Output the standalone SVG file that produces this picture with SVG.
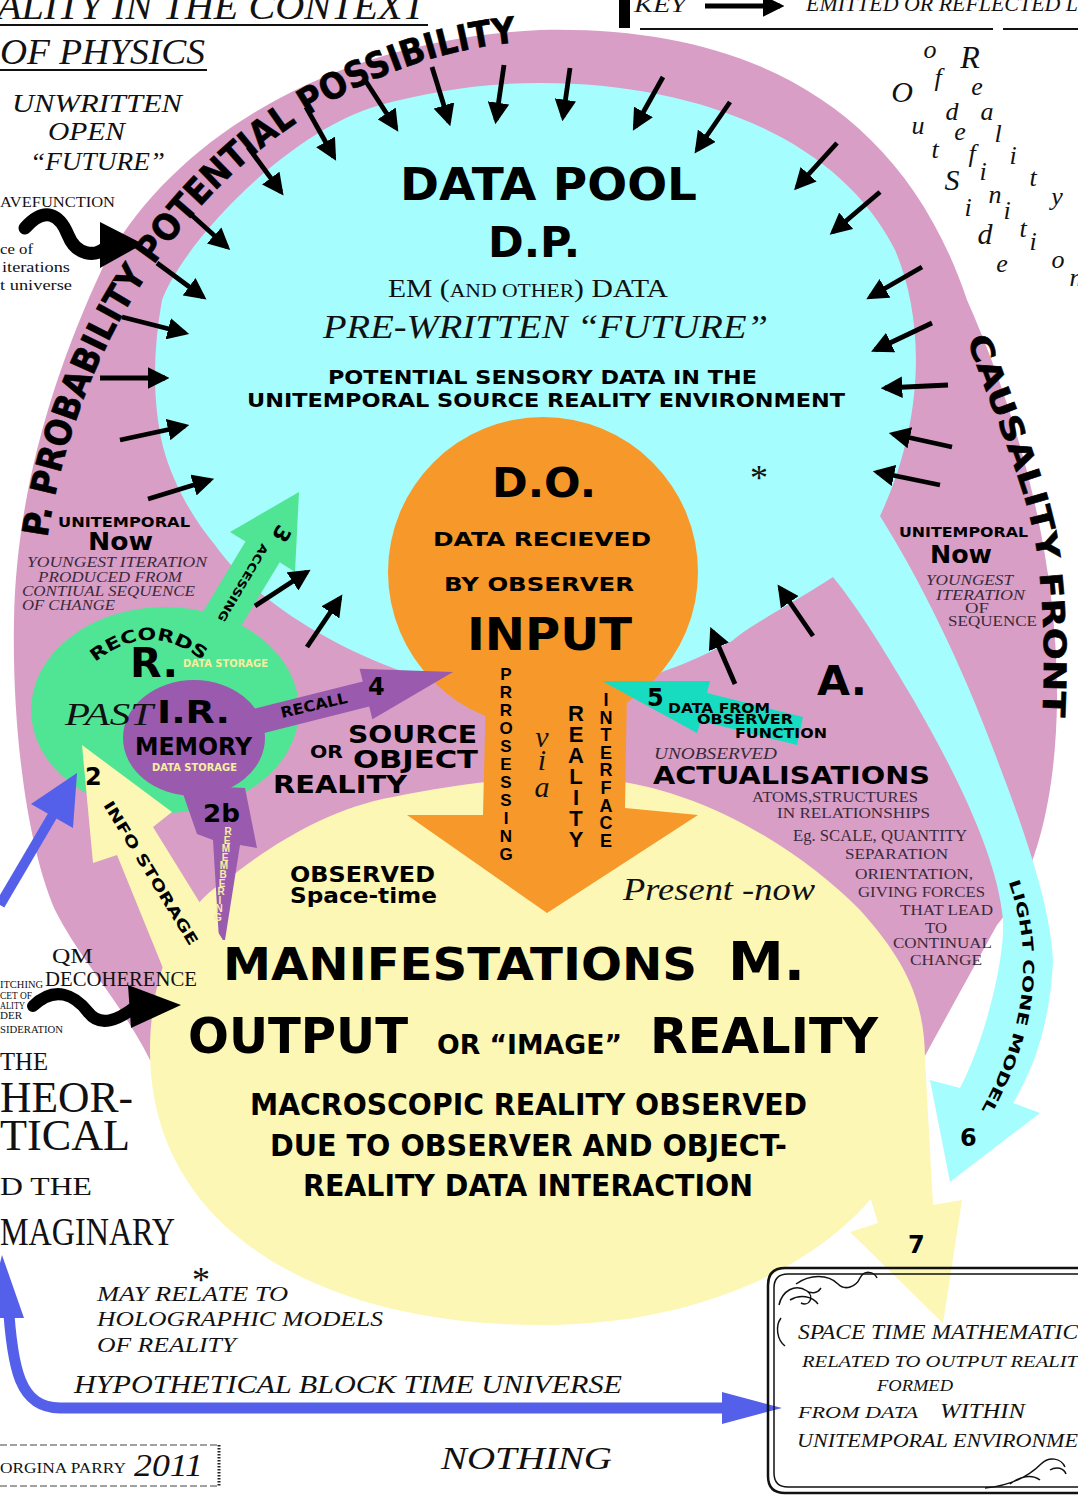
<svg xmlns="http://www.w3.org/2000/svg" width="1078" height="1501" viewBox="0 0 1078 1501">
<style>
.h{font-family:"DejaVu Sans","Liberation Sans",Arial,sans-serif;font-weight:bold;fill:#000}
.b{font-family:"Liberation Sans",Arial,sans-serif;font-weight:bold;fill:#000}
.s{font-family:"Liberation Serif","Times New Roman",serif;fill:#111}
.i{font-style:italic}
.g{fill:#3a2a3a}
.ys{fill:#f7efa0}
.arw{stroke:#000;stroke-width:4.8;fill:none;marker-end:url(#ah)}
.pink{fill:#d89ec6}
.cyan{fill:#a6fdfd}
.yel{fill:#fcf7b4}
.org{fill:#f7982a}
.grn{fill:#4fe594}
.pur{fill:#9a5aae}
.blue{fill:#5560ea}
.frame{fill:none;stroke:#111}
</style>
<defs>
<marker id="ah" viewBox="0 0 10 10" refX="8" refY="5" markerWidth="4.5" markerHeight="4.5" orient="auto" markerUnits="strokeWidth"><path d="M0,0 L10,5 L0,10 z" fill="#000"/></marker>
<path id="pArc" d="M 47,541 A 520 600 0 0 1 600,42"/>
<path id="pCaus" d="M 966,335 C 990,410 1030,490 1038,560 C 1045,620 1045,670 1042,728"/>
<path id="pLight" d="M 1007,878 Q 1050,990 979,1114"/>
<path id="pAcc" d="M 262,543 L 214,624"/>
<path id="pInfo" d="M 103,805 L 192,950"/>
<path id="pRec" d="M 92,665 Q 150,615 208,665"/>
</defs>
<rect x="0" y="0" width="1078" height="1501" fill="#fff"/>

<g id="probability-field">
<path class="pink" d="M 540,30 C 740,25 900,100 967,300 C 1020,420 1058,560 1057,700 C 1056,800 1035,880 997,925 C 975,965 950,1010 920,1065 L 540,1100 L 150,1060 C 120,1000 80,960 55,910 C 25,840 12,720 14,620 C 16,500 50,380 103,267 C 170,140 330,40 540,30 Z"/>
</g>

<g id="data-pool">
<path class="cyan" d="M 393,668 C 320,640 250,595 215,545 C 190,515 172,480 163,447 C 152,400 153,350 162,300 C 185,240 290,130 380,105 C 430,92 480,83 540,83 C 700,83 840,140 895,250 C 925,320 925,420 880,516 C 920,580 960,660 997,759 C 1020,820 1050,900 1053,960 C 1050,1030 1030,1075 1013,1103 L 1040,1113 L 950,1182 L 930,1080 L 960,1088 C 985,1040 1005,960 1003,920 C 998,860 960,780 913,699 C 890,660 860,610 833,577 C 790,605 750,625 732,641 C 710,652 690,662 667,670 L 540,720 Z"/>
</g>

<g id="manifestations">
<path class="yel" d="M 150,1050 C 150,960 190,900 227,880 C 270,845 330,808 393,797 C 450,785 520,775 590,778 C 700,785 800,850 860,910 C 905,960 925,1000 925,1060 C 925,1210 760,1325 540,1325 C 320,1325 150,1230 150,1050 Z"/>
<polygon class="yel" points="880,1140 925,1060 933,1205 962,1200 943,1323 850,1232 878,1223 868,1190"/>
</g>

<g id="observer">
<circle class="org" cx="543" cy="572" r="155"/>
<polygon class="org" points="486,690 483,815 407,815 547,913 698,815 625,808 627,690"/>
</g>

<g id="records">
<ellipse class="grn" cx="165" cy="710" rx="134" ry="103"/>
<polygon class="grn" points="198,620 245.5,541.5 230,532 299,492 295,572 279.7,562.3 232,641"/>
</g>

<g id="memory">
<ellipse class="pur" cx="194" cy="738" rx="71" ry="58"/>
<polygon class="pur" points="251.8,709.4 362.8,681.4 359.6,668.8 453,672 372.4,719.2 369.2,706.6 258.2,734.6"/>
<polygon class="pur" points="180,785 245,788 257,848 240,845 225,940 219,940 213,840 197,834"/>
</g>

<g id="connectors">
<polygon class="yel" points="82,745 172,812 153,827 226,945 178,1005 117,855 93,863"/>
<polygon fill="#18dcc0" points="602,681 710,681 707,693 803,717 797,745 701,721 697,733"/>
<line x1="0" y1="905" x2="54" y2="813" stroke="#5560ea" stroke-width="10"/>
<polygon class="blue" points="77,773 73,828 31,804"/>
<path d="M 8,1300 C 12,1370 20,1408 60,1408 L 728,1408" fill="none" stroke="#5560ea" stroke-width="11"/>
<polygon class="blue" points="722,1392 782,1408 722,1424"/>
<polygon class="blue" points="-14,1318 24,1318 2,1255"/>
<path d="M 25,228 C 45,205 60,215 68,235 C 76,255 95,258 106,247" fill="none" stroke="#000" stroke-width="13" stroke-linecap="round"/>
<polygon points="100,222 143,244 100,268"/>
<path d="M 33,1006 C 55,985 75,995 88,1012 C 100,1028 118,1020 135,1007" fill="none" stroke="#000" stroke-width="12" stroke-linecap="round"/>
<polygon points="128,985 181,1005 131,1028"/>
<line class="arw" x1="157" y1="263" x2="203" y2="297"/>
<line class="arw" x1="186" y1="210" x2="227" y2="247"/>
<line class="arw" x1="248" y1="147" x2="281" y2="192"/>
<line class="arw" x1="306" y1="107" x2="334" y2="157"/>
<line class="arw" x1="365" y1="80" x2="396" y2="128"/>
<line class="arw" x1="432" y1="67" x2="449" y2="122"/>
<line class="arw" x1="504" y1="65" x2="496" y2="120"/>
<line class="arw" x1="570" y1="68" x2="563" y2="117"/>
<line class="arw" x1="663" y1="77" x2="635" y2="127"/>
<line class="arw" x1="730" y1="102" x2="697" y2="150"/>
<line class="arw" x1="837" y1="143" x2="797" y2="187"/>
<line class="arw" x1="880" y1="192" x2="833" y2="232"/>
<line class="arw" x1="922" y1="267" x2="870" y2="297"/>
<line class="arw" x1="932" y1="323" x2="875" y2="350"/>
<line class="arw" x1="948" y1="385" x2="885" y2="388"/>
<line class="arw" x1="952" y1="447" x2="893" y2="434"/>
<line class="arw" x1="940" y1="485" x2="877" y2="472"/>
<line class="arw" x1="122" y1="317" x2="185" y2="333"/>
<line class="arw" x1="100" y1="378" x2="165" y2="378"/>
<line class="arw" x1="120" y1="440" x2="185" y2="426"/>
<line class="arw" x1="148" y1="499" x2="210" y2="480"/>
<line class="arw" x1="255" y1="606" x2="307" y2="572"/>
<line class="arw" x1="307" y1="647" x2="340" y2="598"/>
<line class="arw" x1="735" y1="684" x2="712" y2="631"/>
<line class="arw" x1="813" y1="636" x2="780" y2="588"/>
</g>

<g id="field-labels">
<text class="h" font-size="36" stroke="#000" stroke-width="0.6"><textPath href="#pArc" startOffset="3" textLength="735" lengthAdjust="spacingAndGlyphs">P. PROBABILITY POTENTIAL POSSIBILITY</textPath></text>
<text class="h" font-size="31" stroke="#000" stroke-width="0.6"><textPath href="#pCaus" startOffset="4" textLength="390" lengthAdjust="spacingAndGlyphs">CAUSALITY FRONT</textPath></text>
<text class="h" font-size="15"><textPath href="#pLight" startOffset="4" textLength="238" lengthAdjust="spacingAndGlyphs">LIGHT CONE MODEL</textPath></text>
</g>

<g id="key">
<rect x="619" y="0" width="11" height="28" fill="#000"/>
<text class="s i" x="634" y="12" font-size="22" textLength="52" lengthAdjust="spacingAndGlyphs">KEY</text>
<line x1="640" y1="29" x2="993" y2="29" stroke="#111" stroke-width="2"/>
<line x1="1003" y1="29" x2="1078" y2="29" stroke="#111" stroke-width="2"/>
<line class="arw" x1="705" y1="6" x2="780" y2="6" stroke-width="5"/>
<text class="s i" x="806" y="11" font-size="20" textLength="272" lengthAdjust="spacingAndGlyphs">EMITTED  OR REFLECTED  L</text>
</g>

<g id="title" class="s i">
<text x="-3" y="19" font-size="38" textLength="428" lengthAdjust="spacingAndGlyphs">ALITY IN THE CONTEXT</text>
<line x1="0" y1="25" x2="428" y2="25" stroke="#111" stroke-width="2"/>
<text x="0" y="64" font-size="35" textLength="205" lengthAdjust="spacingAndGlyphs">OF PHYSICS</text>
<line x1="0" y1="70" x2="207" y2="70" stroke="#111" stroke-width="2"/>
<text x="12" y="112" font-size="25" textLength="170" lengthAdjust="spacingAndGlyphs">UNWRITTEN</text>
<text x="48" y="140" font-size="25" textLength="77" lengthAdjust="spacingAndGlyphs">OPEN</text>
<text x="30" y="170" font-size="25" textLength="135" lengthAdjust="spacingAndGlyphs">“FUTURE”</text>
</g>
<g id="wavefunction" class="s">
<text x="0" y="207" font-size="15" textLength="115" lengthAdjust="spacingAndGlyphs">AVEFUNCTION</text>
<text x="0" y="254" font-size="14" textLength="33" lengthAdjust="spacingAndGlyphs">ce of</text>
<text x="2" y="272" font-size="14" textLength="68" lengthAdjust="spacingAndGlyphs">iterations</text>
<text x="0" y="290" font-size="14" textLength="72" lengthAdjust="spacingAndGlyphs">t universe</text>
</g>

<g id="outside-reality" class="s i" text-anchor="middle" font-size="26">
<text x="902" y="102" font-size="30">O</text><text x="918" y="134">u</text><text x="935" y="158">t</text><text x="952" y="190" font-size="30">S</text><text x="968" y="216">i</text><text x="985" y="244" font-size="30">d</text><text x="1002" y="272">e</text>
<text x="930" y="58">o</text><text x="938" y="86">f</text><text x="952" y="120">d</text><text x="960" y="140">e</text><text x="972" y="162">f</text><text x="983" y="180">i</text><text x="995" y="203">n</text><text x="1007" y="219">i</text><text x="1023" y="237">t</text><text x="1033" y="250">i</text><text x="1058" y="268">o</text><text x="1076" y="286">n</text>
<text x="970" y="68" font-size="32">R</text><text x="977" y="95">e</text><text x="987" y="120">a</text><text x="998" y="142">l</text><text x="1013" y="164">i</text><text x="1033" y="186">t</text><text x="1057" y="205">y</text>
</g>

<g id="data-pool-text">
<text class="h" x="400" y="200" font-size="44" textLength="297" lengthAdjust="spacingAndGlyphs">DATA POOL</text>
<text class="h" x="488" y="257" font-size="42" textLength="92" lengthAdjust="spacingAndGlyphs">D.P.</text>
<text class="s" x="388" y="297" font-size="26" textLength="280" lengthAdjust="spacingAndGlyphs">EM (<tspan font-size="19">AND OTHER</tspan>) DATA</text>
<text class="s i" x="323" y="338" font-size="34" textLength="445" lengthAdjust="spacingAndGlyphs">PRE-WRITTEN  “FUTURE”</text>
<text class="h" x="328" y="384" font-size="20" textLength="429" lengthAdjust="spacingAndGlyphs">POTENTIAL SENSORY DATA IN THE</text>
<text class="h" x="247" y="407" font-size="20" textLength="598" lengthAdjust="spacingAndGlyphs">UNITEMPORAL SOURCE REALITY ENVIRONMENT</text>
<text class="s" x="750" y="490" font-size="36">*</text>
</g>

<g id="observer-text">
<text class="h" x="492" y="497" font-size="40" textLength="104" lengthAdjust="spacingAndGlyphs">D.O.</text>
<text class="h" x="433" y="546" font-size="20" textLength="218" lengthAdjust="spacingAndGlyphs">DATA  RECIEVED</text>
<text class="h" x="444" y="591" font-size="20" textLength="190" lengthAdjust="spacingAndGlyphs">BY OBSERVER</text>
<text class="h" x="467" y="650" font-size="44" textLength="165" lengthAdjust="spacingAndGlyphs">INPUT</text>
<text class="b" font-size="17" text-anchor="middle"><tspan x="506" y="680">P</tspan><tspan x="506" y="698">R</tspan><tspan x="506" y="716">R</tspan><tspan x="506" y="734">O</tspan><tspan x="506" y="752">S</tspan><tspan x="506" y="770">E</tspan><tspan x="506" y="788">S</tspan><tspan x="506" y="806">S</tspan><tspan x="506" y="824">I</tspan><tspan x="506" y="842">N</tspan><tspan x="506" y="860">G</tspan></text>
<text class="s i" font-size="30" text-anchor="middle"><tspan x="542" y="747">v</tspan><tspan x="542" y="770">i</tspan><tspan x="542" y="797">a</tspan></text>
<text class="b" font-size="22" text-anchor="middle"><tspan x="576" y="721">R</tspan><tspan x="576" y="742">E</tspan><tspan x="576" y="763">A</tspan><tspan x="576" y="784">L</tspan><tspan x="576" y="805">I</tspan><tspan x="576" y="826">T</tspan><tspan x="576" y="847">Y</tspan></text>
<text class="b" font-size="18" text-anchor="middle"><tspan x="606" y="706">I</tspan><tspan x="606" y="723.6">N</tspan><tspan x="606" y="741.2">T</tspan><tspan x="606" y="758.8">E</tspan><tspan x="606" y="776.4">R</tspan><tspan x="606" y="794">F</tspan><tspan x="606" y="811.6">A</tspan><tspan x="606" y="829.2">C</tspan><tspan x="606" y="846.8">E</tspan></text>
</g>

<g id="now-left">
<text class="h" x="58" y="527" font-size="14" textLength="132" lengthAdjust="spacingAndGlyphs">UNITEMPORAL</text>
<text class="h" x="88" y="550" font-size="25" textLength="65" lengthAdjust="spacingAndGlyphs">Now</text>
<text class="s i g" x="27" y="567" font-size="15" textLength="180" lengthAdjust="spacingAndGlyphs">YOUNGEST ITERATION</text>
<text class="s i g" x="38" y="582" font-size="15" textLength="144" lengthAdjust="spacingAndGlyphs">PRODUCED FROM</text>
<text class="s i g" x="22" y="596" font-size="15" textLength="173" lengthAdjust="spacingAndGlyphs">CONTIUAL SEQUENCE</text>
<text class="s i g" x="22" y="610" font-size="15" textLength="93" lengthAdjust="spacingAndGlyphs">OF CHANGE</text>
</g>

<g id="now-right">
<text class="h" x="899" y="537" font-size="14" textLength="129" lengthAdjust="spacingAndGlyphs">UNITEMPORAL</text>
<text class="h" x="930" y="563" font-size="25" textLength="62" lengthAdjust="spacingAndGlyphs">Now</text>
<text class="s i g" x="926" y="585" font-size="15" textLength="87" lengthAdjust="spacingAndGlyphs">YOUNGEST</text>
<text class="s i g" x="936" y="600" font-size="15" textLength="89" lengthAdjust="spacingAndGlyphs">ITERATION</text>
<text class="s g" x="965" y="613" font-size="14" textLength="24" lengthAdjust="spacingAndGlyphs">OF</text>
<text class="s g" x="948" y="626" font-size="14" textLength="89" lengthAdjust="spacingAndGlyphs">SEQUENCE</text>
</g>

<g id="records-text">
<text class="h" font-size="17"><textPath href="#pRec" startOffset="4" textLength="118" lengthAdjust="spacingAndGlyphs">RECORDS</textPath></text>
<text class="h" x="130" y="677" font-size="40" textLength="48" lengthAdjust="spacingAndGlyphs">R.</text>
<text class="h ys" x="183" y="667" font-size="10" textLength="85" lengthAdjust="spacingAndGlyphs">DATA STORAGE</text>
<text class="s i" x="65" y="725" font-size="32" textLength="88" lengthAdjust="spacingAndGlyphs">PAST</text>
<text class="h" x="157" y="723" font-size="32" textLength="73" lengthAdjust="spacingAndGlyphs">I.R.</text>
<text class="h" x="135" y="755" font-size="24" textLength="117" lengthAdjust="spacingAndGlyphs">MEMORY</text>
<text class="h ys" x="152" y="771" font-size="10" textLength="85" lengthAdjust="spacingAndGlyphs">DATA STORAGE</text>
<text class="h" x="275" y="530" font-size="22" text-anchor="middle" transform="rotate(120 275 530)">3</text>
<text class="h" font-size="11"><textPath href="#pAcc" textLength="88" lengthAdjust="spacingAndGlyphs">ACCESSING</textPath></text>
<text class="h" x="282" y="718" font-size="15" textLength="68" lengthAdjust="spacingAndGlyphs" transform="rotate(-13 282 718)">RECALL</text>
<text class="h" x="368" y="695" font-size="24">4</text>
<text class="h" x="85" y="785" font-size="24">2</text>
<text class="h" font-size="15"><textPath href="#pInfo" textLength="166" lengthAdjust="spacingAndGlyphs">INFO STORAGE</textPath></text>
<text class="h" x="203" y="822" font-size="25" textLength="37" lengthAdjust="spacingAndGlyphs">2b</text>
<text class="b ys" font-size="10" text-anchor="middle"><tspan x="228" y="835">R</tspan><tspan x="227" y="843.6">E</tspan><tspan x="226" y="852.2">M</tspan><tspan x="225" y="860.8">E</tspan><tspan x="224" y="869.4">M</tspan><tspan x="223" y="878">B</tspan><tspan x="222" y="886.6">E</tspan><tspan x="221" y="895.2">R</tspan><tspan x="220" y="903.8">I</tspan><tspan x="219" y="912.4">N</tspan><tspan x="218" y="921">G</tspan></text>
</g>

<g id="source-text">
<text class="h" x="348" y="743" font-size="25" textLength="129" lengthAdjust="spacingAndGlyphs">SOURCE</text>
<text class="h" x="310" y="758" font-size="18" textLength="33" lengthAdjust="spacingAndGlyphs">OR</text>
<text class="h" x="353" y="768" font-size="25" textLength="125" lengthAdjust="spacingAndGlyphs">OBJECT</text>
<text class="h" x="273" y="793" font-size="25" textLength="134" lengthAdjust="spacingAndGlyphs">REALITY</text>
</g>

<g id="actualisations-text">
<text class="h" x="817" y="695" font-size="40" textLength="50" lengthAdjust="spacingAndGlyphs">A.</text>
<text class="h" x="647" y="706" font-size="24">5</text>
<text class="h" x="668" y="713" font-size="14" textLength="102" lengthAdjust="spacingAndGlyphs">DATA FROM</text>
<text class="h" x="697" y="724" font-size="14" textLength="96" lengthAdjust="spacingAndGlyphs">OBSERVER</text>
<text class="h" x="735" y="738" font-size="14" textLength="92" lengthAdjust="spacingAndGlyphs">FUNCTION</text>
<text class="s i g" x="654" y="759" font-size="17" textLength="123" lengthAdjust="spacingAndGlyphs">UNOBSERVED</text>
<text class="h" x="653" y="784" font-size="25" textLength="277" lengthAdjust="spacingAndGlyphs">ACTUALISATIONS</text>
<g class="s g" font-size="15">
<text x="752" y="802" textLength="166" lengthAdjust="spacingAndGlyphs">ATOMS,STRUCTURES</text>
<text x="777" y="818" textLength="153" lengthAdjust="spacingAndGlyphs">IN  RELATIONSHIPS</text>
<text x="793" y="841" font-size="16" textLength="174" lengthAdjust="spacingAndGlyphs">Eg. SCALE, QUANTITY</text>
<text x="845" y="859" textLength="103" lengthAdjust="spacingAndGlyphs">SEPARATION</text>
<text x="855" y="879" textLength="118" lengthAdjust="spacingAndGlyphs">ORIENTATION,</text>
<text x="858" y="897" textLength="127" lengthAdjust="spacingAndGlyphs">GIVING FORCES</text>
<text x="900" y="915" textLength="93" lengthAdjust="spacingAndGlyphs">THAT LEAD</text>
<text x="925" y="933" textLength="22" lengthAdjust="spacingAndGlyphs">TO</text>
<text x="893" y="948" textLength="99" lengthAdjust="spacingAndGlyphs">CONTINUAL</text>
<text x="910" y="965" textLength="72" lengthAdjust="spacingAndGlyphs">CHANGE</text>
</g>
</g>

<g id="manifestations-text">
<text class="h" x="290" y="882" font-size="21" textLength="145" lengthAdjust="spacingAndGlyphs">OBSERVED</text>
<text class="h" x="290" y="903" font-size="21" textLength="147" lengthAdjust="spacingAndGlyphs">Space-time</text>
<text class="s i" x="623" y="900" font-size="31" textLength="192" lengthAdjust="spacingAndGlyphs">Present -now</text>
<text class="h" x="223" y="980" font-size="44" textLength="474" lengthAdjust="spacingAndGlyphs">MANIFESTATIONS</text>
<text class="h" x="728" y="980" font-size="54" textLength="77" lengthAdjust="spacingAndGlyphs">M.</text>
<text class="h" x="188" y="1053" font-size="50" textLength="220" lengthAdjust="spacingAndGlyphs">OUTPUT</text>
<text class="h" x="437" y="1054" font-size="26" textLength="185" lengthAdjust="spacingAndGlyphs">OR “IMAGE”</text>
<text class="h" x="650" y="1053" font-size="50" textLength="228" lengthAdjust="spacingAndGlyphs">REALITY</text>
<text class="h" x="250" y="1115" font-size="30" textLength="557" lengthAdjust="spacingAndGlyphs">MACROSCOPIC REALITY OBSERVED</text>
<text class="h" x="270" y="1156" font-size="30" textLength="517" lengthAdjust="spacingAndGlyphs">DUE TO OBSERVER AND OBJECT-</text>
<text class="h" x="303" y="1196" font-size="30" textLength="450" lengthAdjust="spacingAndGlyphs">REALITY DATA INTERACTION</text>
<text class="h" x="960" y="1146" font-size="24">6</text>
<text class="h" x="908" y="1253" font-size="24">7</text>
</g>

<g id="decoherence" class="s">
<text x="52" y="963" font-size="20" textLength="41" lengthAdjust="spacingAndGlyphs">QM</text>
<text x="45" y="986" font-size="20" textLength="152" lengthAdjust="spacingAndGlyphs">DECOHERENCE</text>
<text x="0" y="988" font-size="10" textLength="43" lengthAdjust="spacingAndGlyphs">ITCHING</text>
<text x="0" y="999" font-size="10" textLength="32" lengthAdjust="spacingAndGlyphs">CET OF</text>
<text x="0" y="1009" font-size="10" textLength="25" lengthAdjust="spacingAndGlyphs">ALITY</text>
<text x="0" y="1019" font-size="10" textLength="22" lengthAdjust="spacingAndGlyphs">DER</text>
<text x="0" y="1033" font-size="10" textLength="63" lengthAdjust="spacingAndGlyphs">SIDERATION</text>
</g>

<g id="theoretical" class="s">
<text x="0" y="1070" font-size="26" textLength="48" lengthAdjust="spacingAndGlyphs">THE</text>
<text x="0" y="1112" font-size="44" textLength="133" lengthAdjust="spacingAndGlyphs">HEOR-</text>
<text x="0" y="1150" font-size="44" textLength="130" lengthAdjust="spacingAndGlyphs">TICAL</text>
<text x="0" y="1195" font-size="26" textLength="92" lengthAdjust="spacingAndGlyphs">D  THE</text>
<text x="0" y="1245" font-size="40" textLength="175" lengthAdjust="spacingAndGlyphs">MAGINARY</text>
<text x="192" y="1292" font-size="36">*</text>
<text class="i" x="97" y="1301" font-size="22" textLength="191" lengthAdjust="spacingAndGlyphs">MAY RELATE TO</text>
<text class="i" x="97" y="1326" font-size="22" textLength="286" lengthAdjust="spacingAndGlyphs">HOLOGRAPHIC MODELS</text>
<text class="i" x="97" y="1352" font-size="22" textLength="139" lengthAdjust="spacingAndGlyphs">OF REALITY</text>
<text class="i" x="74" y="1393" font-size="25" textLength="548" lengthAdjust="spacingAndGlyphs">HYPOTHETICAL  BLOCK TIME UNIVERSE</text>
<text class="i" x="441" y="1469" font-size="32" textLength="171" lengthAdjust="spacingAndGlyphs">NOTHING</text>
</g>

<g id="signature">
<line x1="0" y1="1445" x2="219" y2="1445" stroke="#444" stroke-width="1.2" stroke-dasharray="7 3"/>
<line x1="0" y1="1486" x2="219" y2="1486" stroke="#444" stroke-width="1.2" stroke-dasharray="7 3"/>
<line x1="219" y1="1445" x2="219" y2="1486" stroke="#222" stroke-width="3" stroke-dasharray="1.5 1.5"/>
<text class="s" x="0" y="1473" font-size="15" textLength="126" lengthAdjust="spacingAndGlyphs">ORGINA PARRY</text>
<text class="s i" x="134" y="1476" font-size="31" textLength="69" lengthAdjust="spacingAndGlyphs">2011</text>
</g>

<g id="spacetime-box">
<path class="frame" stroke-width="2.5" d="M 1090,1268 L 785,1268 Q 768,1268 768,1285 L 768,1476 Q 768,1493 785,1493 L 1090,1493"/>
<path class="frame" stroke-width="1.5" d="M 1090,1274 L 788,1274 Q 774,1274 774,1288 L 774,1473 Q 774,1487 788,1487 L 1090,1487"/>
<path class="frame" stroke-width="1.5" d="M 779,1305 c 3,-14 16,-22 28,-14 c 8,6 2,16 -6,12 M 796,1284 c 14,-10 32,-10 42,0 c 7,7 18,3 22,-6 c 4,-8 14,-7 17,0 M 790,1300 c 10,-6 22,-4 28,4 M 781,1318 c -6,8 -4,22 4,28 M 805,1290 c 6,4 12,4 16,-2"/>
<path class="frame" stroke-width="1.5" d="M 985,1488 c 22,-2 42,-10 56,-24 c 8,-8 20,-6 24,3 M 1010,1484 c 10,-8 22,-10 30,-4 M 1050,1470 c 6,-4 14,-2 16,4"/>
<text class="s i" x="798" y="1339" font-size="21" textLength="280" lengthAdjust="spacingAndGlyphs">SPACE TIME MATHEMATIC</text>
<text class="s i" x="802" y="1367" font-size="17" textLength="276" lengthAdjust="spacingAndGlyphs">RELATED TO  OUTPUT  REALIT</text>
<text class="s i" x="877" y="1391" font-size="17" textLength="76" lengthAdjust="spacingAndGlyphs">FORMED</text>
<text class="s i" x="798" y="1418" font-size="17" textLength="120" lengthAdjust="spacingAndGlyphs">FROM   DATA</text>
<text class="s i" x="940" y="1418" font-size="22" textLength="85" lengthAdjust="spacingAndGlyphs">WITHIN</text>
<text class="s i" x="797" y="1447" font-size="19" textLength="281" lengthAdjust="spacingAndGlyphs">UNITEMPORAL  ENVIRONME</text>
</g>
</svg>
